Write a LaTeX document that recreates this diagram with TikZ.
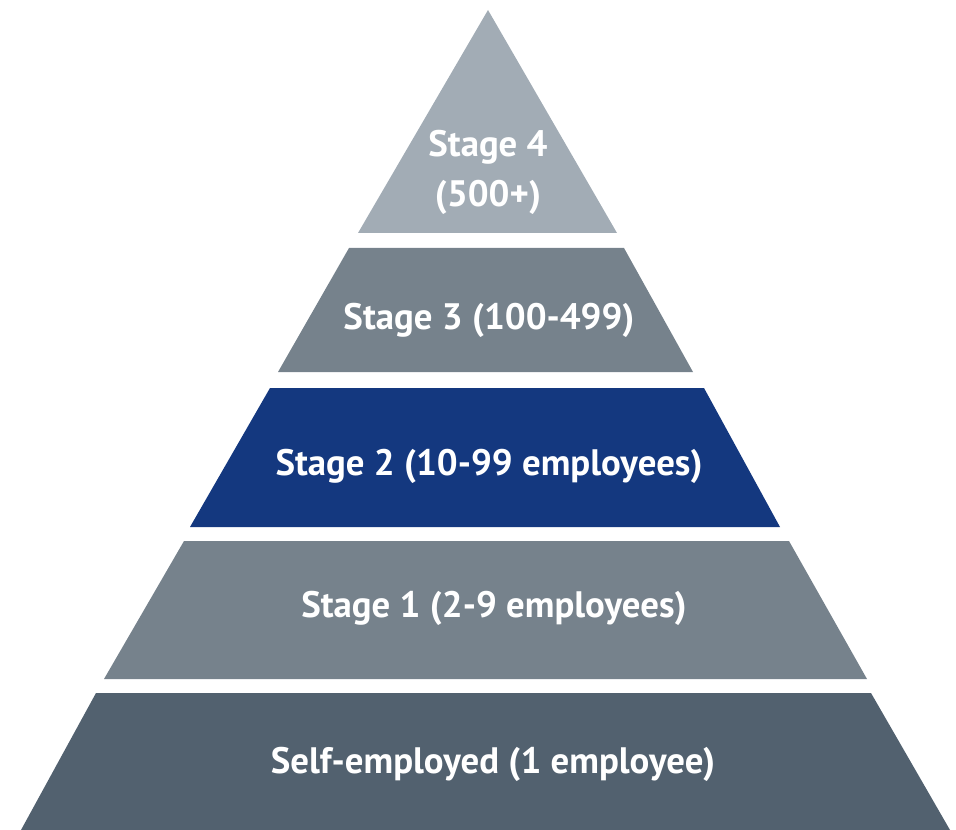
\documentclass[tikz,border=0pt]{standalone}
\usepackage{fontspec}
\setmainfont{PT Sans}
\usepackage{tikz}
\usetikzlibrary{positioning}

\definecolor{topgrey}{RGB}{162,172,181}
\definecolor{midgrey}{RGB}{118,130,140}
\definecolor{basegrey}{RGB}{82,97,111}
\definecolor{stagenavy}{RGB}{20,56,127}

\tikzset{
  stagetext/.style={text=white, font=\bfseries\fontsize{27.6}{33}\selectfont, inner sep=0.75pt, align=center}
}

\begin{document}
\begin{tikzpicture}[x=0.75pt,y=0.75pt,yscale=-1,xscale=1]
\useasboundingbox (0,0) rectangle (956,830);

%Shape: Triangle [id:stage4]
\fill [topgrey] (488,10) -- (617,233) -- (358,233) -- cycle ;
%Shape: Trapezoid [id:stage3]
\fill [midgrey] (349,248) -- (624,248) -- (693,372) -- (278,372) -- cycle ;
%Shape: Trapezoid [id:stage2]
\fill [stagenavy] (270,388) -- (704,388) -- (780,527) -- (190,527) -- cycle ;
%Shape: Trapezoid [id:stage1]
\fill [midgrey] (184,541) -- (789,541) -- (867,679) -- (104,679) -- cycle ;
%Shape: Trapezoid [id:self]
\fill [basegrey] (96,693) -- (871,693) -- (950,830) -- (21,830) -- cycle ;

% Text Node
\node [stagetext] (s4) at (488,147) {Stage 4};
% Text Node
\node [stagetext] (s4n) at (488,197) {(500+)};
% Text Node
\node [stagetext] (s3) at (489,320) {Stage 3 (100-499)};
% Text Node
\node [stagetext] (s2) at (489,466) {Stage 2 (10-99 employees)};
% Text Node
\node [stagetext] (s1) at (494,608) {Stage 1 (2-9 employees)};
% Text Node
\node [stagetext] (se) at (493,764) {Self-employed (1 employee)};

\end{tikzpicture}
\end{document}
